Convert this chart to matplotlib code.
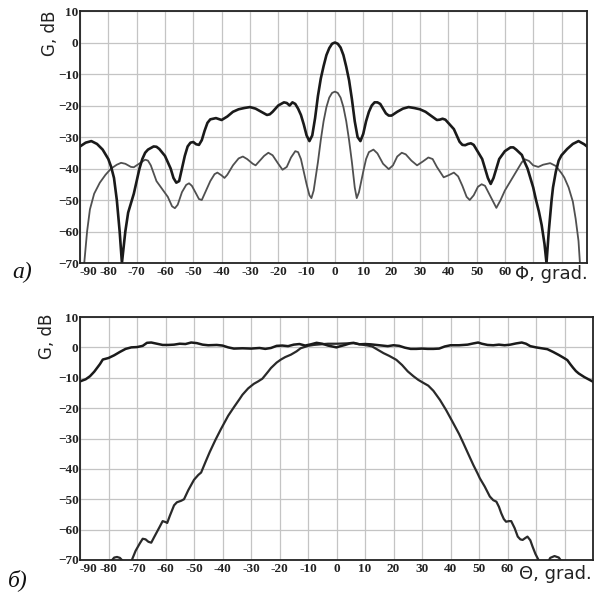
import matplotlib
matplotlib.use("Agg")
import matplotlib.pyplot as plt
import numpy as np

# ---- (a) Phi cut: two patterns, G in dB ----
phi_a1 = [-90, -88, -86, -84, -82, -80, -79, -78, -77, -76, -75.2, -74, -73, -72, -71, -70, -69, -68, -67, -66,
          -64, -63, -62, -60, -58, -57, -56, -55, -54, -53, -52, -51, -50, -49, -48, -47, -46, -45, -44, -42,
          -40, -38, -36, -34, -32, -30, -28, -26, -24, -23, -22, -20, -18, -17, -16, -15, -14, -13, -12, -11,
          -10, -9, -8, -7, -6, -5, -4, -3, -2, -1, 0, 1, 2, 3, 4, 5, 6, 7, 8, 9,
          10, 11, 12, 13, 14, 15, 16, 17, 18, 19, 20, 22, 24, 26, 28, 30, 32, 34, 36, 37,
          38, 39, 40, 42, 43, 44, 45, 46, 47, 48, 49, 50, 52, 53, 54, 55, 56, 57, 58, 60,
          62, 63, 64, 66, 67, 68, 69, 70, 71, 72, 73, 74, 74.7, 75.5, 76.5, 77, 78, 79, 80, 82,
          84, 86, 88, 89]
g_a1 = [-33, -31.8, -31.3, -32.2, -34, -37, -39.5, -43, -50, -60, -70, -60, -54, -51, -48, -44, -40, -37, -35, -34,
        -33, -33.1, -33.8, -36, -40, -43, -44.5, -44, -40, -36, -33, -31.8, -31.6, -32.3, -32.5, -31, -28, -25.5, -24.4, -24,
        -24.6, -23.5, -22, -21.2, -20.8, -20.5, -21, -22, -23, -22.8, -22, -20, -19, -19.2, -20, -19, -19.5, -21, -23, -26,
        -29.5, -31.3, -29.5, -24, -17, -11.5, -7.5, -4, -1.8, -0.4, 0, -0.4, -1.6, -4, -7.7, -12, -18, -25, -30, -31.3,
        -29, -25, -22, -20, -19, -19, -19.5, -21, -22.5, -23.2, -23.2, -22, -21, -20.5, -20.8, -21.2, -22, -23.3, -24.6, -24.5,
        -24.2, -24.5, -25.5, -27.5, -29.5, -31.5, -32.5, -32.6, -32.2, -32, -32.5, -34, -37, -40, -43, -44.9, -43, -40, -37, -34.5,
        -33.3, -33.3, -34, -35.7, -38, -40, -43, -46, -50, -53.6, -58, -64, -70, -60, -50, -46, -41, -37.5, -35.8, -33.8,
        -32.2, -31.3, -32.3, -33]

phi_a2 = [-89, -88.5, -87.5, -86.5, -85, -83, -81, -79, -77, -75.5, -74, -72, -71, -70, -68, -67, -66, -65, -64, -63,
          -61, -59, -57.5, -56.5, -55.5, -54, -52.5, -51.5, -50.5, -49, -48, -47, -46, -44, -42.5, -41.5, -40, -39, -38, -36,
          -34, -32.5, -31, -29, -28, -26.5, -25, -23.5, -22, -20, -18.5, -17, -15.5, -14, -13, -12, -11, -10, -9, -8.3,
          -7.5, -6, -5, -4, -3, -2, -1, 0, 1, 2, 3, 4, 5, 6, 7, 7.7, 8.5, 10, 11, 12,
          13.6, 15, 17, 19, 20.5, 22, 23.6, 25, 27, 29, 31, 33, 34.5, 36, 38.4, 40, 42, 43.5, 45, 46.5,
          47.6, 49, 50.5, 51.8, 53, 55, 57, 58.5, 60, 62, 64, 66, 67.1, 68.5, 70, 71.8, 73.5, 76, 78, 80,
          81, 82.5, 84, 85, 86, 86.5, 87]
g_a2 = [-78, -70, -60, -53, -48, -44.5, -42, -40, -38.8, -38.2, -38.5, -39.5, -39.6, -39, -37.8, -37.2, -37.5, -39, -41.5, -44,
        -46.5, -49, -52, -52.6, -51.5, -47.5, -45.2, -44.7, -45.5, -48, -49.7, -50, -48, -44, -41.8, -41.3, -42.2, -43, -42, -39,
        -36.8, -36.2, -37, -38.5, -39, -37.5, -36, -35, -35.8, -38.5, -40.4, -39.5, -36.5, -34.5, -34.8, -37, -41, -45, -48.5, -49.4,
        -47, -38, -31, -25, -20.5, -17.5, -16, -15.6, -16, -17.5, -20.5, -25, -31, -38, -46, -49.4, -47.5, -41, -37, -34.8,
        -34, -35.2, -38.5, -40.2, -39, -36.2, -35, -35.5, -37.5, -39, -37.8, -36.5, -37, -39.5, -42.8, -42.2, -41.3, -42.5, -45.5, -49,
        -50, -48.5, -45.8, -45, -45.5, -49, -52.5, -50, -47, -44, -41, -38, -37.1, -37.6, -39, -39.5, -38.8, -38.3, -39.2, -41.5,
        -42.9, -46, -50.5, -56, -63, -70, -78]

# ---- (b) Theta cut ----
th_b1 = [-90, -88, -86.5, -85, -83, -82, -80, -78, -76, -74, -72, -70, -68, -66.5, -65, -63, -61, -59, -57, -55,
         -53, -51, -49, -47, -45, -42, -40, -38, -36, -33, -30, -27, -25, -23, -21, -19, -17, -15, -13, -11,
         -9, -7, -5, -3, -1, 0, 1, 3, 5, 6, 8, 10, 12, 14, 16, 18, 20, 22, 24, 26,
         28, 30, 32, 34, 36, 38, 40, 43, 46, 48, 49.7, 51, 53, 55, 57, 59, 61, 63, 65, 66.5,
         68, 70, 72, 74, 76, 78, 80, 81, 82, 83, 84, 85, 87, 89, 90]
g_b1 = [-11.2, -10.5, -9.5, -8, -5.5, -4, -3.5, -2.6, -1.5, -0.5, 0, 0.1, 0.5, 1.5, 1.6, 1.2, 0.8, 0.8, 0.9, 1.2,
        1.1, 1.6, 1.4, 0.9, 0.7, 0.8, 0.6, 0, -0.4, -0.3, -0.4, -0.2, -0.5, -0.2, 0.5, 0.6, 0.4, 0.9, 1.1, 0.6,
        1, 1.5, 1.2, 0.6, 0.2, 0, 0.3, 0.8, 1.4, 1.5, 1.0, 1.1, 1.0, 0.8, 0.6, 0.4, 0.7, 0.5, -0.1, -0.5,
        -0.5, -0.4, -0.5, -0.5, -0.4, 0.3, 0.7, 0.7, 0.9, 1.3, 1.6, 1.2, 0.8, 0.7, 0.9, 0.7, 0.9, 1.3, 1.6, 1.2,
        0.4, 0, -0.3, -0.6, -1.5, -2.5, -3.6, -4.2, -5.5, -6.7, -7.8, -8.6, -9.8, -10.8, -11.3]

th_b2 = [-80, -79, -78, -77, -76, -75, -74, -72.5, -71.8, -70.5, -69, -68, -67, -66, -65, -64, -62, -61, -60, -59.4,
         -58.5, -57, -56, -54.5, -53.5, -52, -50, -48.5, -47.5, -46, -44.5, -42.5, -40.6, -38, -36, -34, -33, -31, -29, -27.5,
         -26, -24, -23, -21, -19.5, -18, -16, -14, -12.6, -10, -8, -5.6, -3, 0, 3, 6, 9, 11, 12.5, 14.5,
         16.5, 18.5, 21, 23, 25, 27, 28.7, 30.5, 32.2, 34, 36.3, 38.5, 41, 43, 44.5, 46, 48, 49.5, 50.3, 52,
         53.8, 55, 56.1, 57, 57.8, 58.7, 59.5, 60.5, 61.3, 62.5, 63.6, 64.5, 65.3, 66.2, 67, 68, 68.8, 69.8, 70.9, 72,
         74, 75, 76.5, 78, 79, 80]
g_b2 = [-72, -70.3, -69.2, -69, -69.3, -70.3, -72, -71, -70, -67, -64.5, -63, -63.2, -64, -64.3, -62.5, -59, -57.2, -57.5, -57.8,
        -55.5, -52, -51, -50.5, -50, -47, -43.6, -42, -41.2, -37.8, -34.5, -30.5, -27, -22.5, -19.7, -17, -15.6, -13.5, -12, -11.2,
        -10.3, -8, -6.8, -5, -4, -3.2, -2.4, -1.3, -0.3, 0.5, 0.8, 1.0, 1.2, 1.2, 1.3, 1.4, 0.9, 0.6, 0.3, -0.8,
        -1.9, -2.8, -4.1, -5.8, -7.9, -9.5, -10.7, -11.7, -12.6, -14.3, -17.3, -20.7, -25, -28.5, -31.5, -34.6, -38.7, -41.5, -43.1, -45.8,
        -49.1, -50.3, -50.8, -52.5, -54.6, -56.5, -57.4, -57.2, -57.2, -59.5, -62.3, -63.2, -63.4, -62.8, -62.3, -63.5, -65.6, -68, -70, -72.5,
        -71, -69.3, -68.7, -69.2, -70.5, -72]

x_ticks = [-90, -80, -70, -60, -50, -40, -30, -20, -10, 0, 10, 20, 30, 40, 50, 60, 70, 80]
x_labels = ["-90", "-80", "-70", "-60", "-50", "-40", "-30", "-20", "-10", "0", "10", "20", "30", "40", "50", "60", "", ""]
y_ticks = [-70, -60, -50, -40, -30, -20, -10, 0, 10]

W, H = 600, 598
fig = plt.figure(figsize=(W / 100, H / 100), dpi=100)
fig.patch.set_facecolor("white")


def px_axes(left, top, right, bottom):
    return fig.add_axes([left / W, 1 - bottom / H, (right - left) / W, (bottom - top) / H])


def style_axes(ax, xmax):
    ax.set_xlim(-90, xmax)
    ax.set_ylim(-70, 10)
    ax.set_xticks(x_ticks)
    ax.set_xticklabels(x_labels)
    ax.set_yticks(y_ticks)
    ax.grid(True, color="#c4c4c4", linewidth=0.9)
    ax.set_axisbelow(True)
    ax.tick_params(length=0, pad=2, labelsize=9.5)
    ax.tick_params(axis="y", pad=1)
    for lab in ax.get_xticklabels() + ax.get_yticklabels():
        lab.set_fontfamily("Liberation Serif")
        lab.set_fontweight("bold")
        lab.set_color("#222222")
    # first x label sits to the right of the corner, next to "-70"
    ax.get_xticklabels()[0].set_horizontalalignment("left")
    for sp in ax.spines.values():
        sp.set_linewidth(1.3)
        sp.set_color("#222222")


# top panel
ax1 = px_axes(80, 11, 587, 263)
ax1.plot(phi_a2, g_a2, color="#505050", linewidth=1.3)
ax1.plot(phi_a1, g_a1, color="#1a1a1a", linewidth=1.9)
style_axes(ax1, 89)

# bottom panel
ax2 = px_axes(80, 317, 593, 560)
ax2.plot(th_b2, g_b2, color="#2a2a2a", linewidth=1.6)
ax2.plot(th_b1, g_b1, color="#1a1a1a", linewidth=1.8)
style_axes(ax2, 90)

# labels
fig.text(50 / W, 1 - 33 / H, "G, dB", rotation=90, ha="center", va="center",
         fontsize=12, color="#222222")
fig.text(47 / W, 1 - 336 / H, "G, dB", rotation=90, ha="center", va="center",
         fontsize=12, color="#222222")
fig.text(588 / W, 1 - 274 / H, "Φ, grad.", ha="right", va="center", fontsize=13, color="#222222")
fig.text(592 / W, 1 - 574 / H, "Θ, grad.", ha="right", va="center", fontsize=13, color="#222222")
fig.text(12 / W, 1 - 272 / H, "a)", ha="left", va="center", fontsize=17,
         fontfamily="Liberation Serif", style="italic", color="#111111")
fig.text(8 / W, 1 - 580 / H, "б)", ha="left", va="center", fontsize=17,
         fontfamily="Liberation Serif", style="italic", color="#111111")

fig.savefig("out.png", dpi=100, facecolor="white")
